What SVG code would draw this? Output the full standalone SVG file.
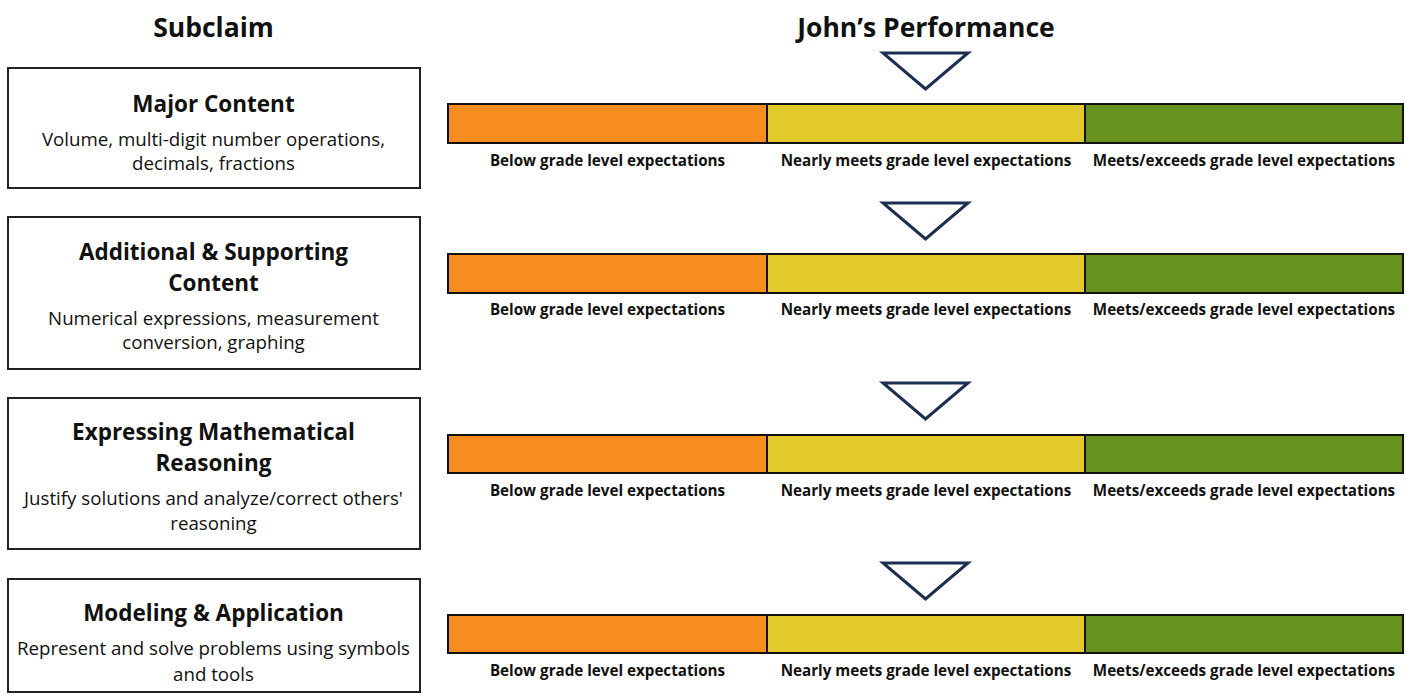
<svg xmlns="http://www.w3.org/2000/svg" width="1407" height="696" viewBox="0 0 1407 696">
<style>
text{font-family:"Open Sans","Noto Sans","Liberation Sans",sans-serif;fill:#111;text-anchor:middle}
.hdr{font-size:26.5px;font-weight:700}
.ttl{font-size:22.5px;font-weight:700}
.body{font-size:18.7px}
.lbl{font-size:15.2px;font-weight:700}
.box{fill:#fff;stroke:#222;stroke-width:2}
.o{fill:#F78C1F;stroke:#111;stroke-width:2}
.y{fill:#E3CA2C;stroke:#111;stroke-width:2}
.g{fill:#66921D;stroke:#111;stroke-width:2}
.tri{fill:#fff;stroke:#1C2E52;stroke-width:3;stroke-linejoin:miter}
</style>
<rect width="1407" height="696" fill="#fff"/>
<g id="headers">
<text class="hdr" x="213.5" y="37">Subclaim</text>
<text class="hdr" x="926" y="37">John’s Performance</text>
</g>
<g id="subclaim-major">
<rect class="box" x="8" y="68" width="412" height="120"/>
<text class="ttl" x="213.5" y="112">Major Content</text>
<text class="body" x="213.5" y="146">Volume, multi-digit number operations,</text>
<text class="body" x="213.5" y="170">decimals, fractions</text>
</g>
<g id="subclaim-additional">
<rect class="box" x="8" y="217" width="412" height="152"/>
<text class="ttl" x="213.5" y="260">Additional &amp; Supporting</text>
<text class="ttl" x="213.5" y="291">Content</text>
<text class="body" x="213.5" y="325">Numerical expressions, measurement</text>
<text class="body" x="213.5" y="349">conversion, graphing</text>
</g>
<g id="subclaim-reasoning">
<rect class="box" x="8" y="398" width="412" height="151"/>
<text class="ttl" x="213.5" y="440">Expressing Mathematical</text>
<text class="ttl" x="213.5" y="471">Reasoning</text>
<text class="body" x="213.5" y="505">Justify solutions and analyze/correct others'</text>
<text class="body" x="213.5" y="530">reasoning</text>
</g>
<g id="subclaim-modeling">
<rect class="box" x="8" y="579" width="412" height="113"/>
<text class="ttl" x="213.5" y="621">Modeling &amp; Application</text>
<text class="body" x="213.5" y="655">Represent and solve problems using symbols</text>
<text class="body" x="213.5" y="681">and tools</text>
</g>
<g id="bar-major">
<rect class="o" x="448" y="104" width="319" height="39"/>
<rect class="y" x="767" y="104" width="318" height="39"/>
<rect class="g" x="1085" y="104" width="318" height="39"/>
<text class="lbl" x="607.5" y="166">Below grade level expectations</text>
<text class="lbl" x="926" y="166">Nearly meets grade level expectations</text>
<text class="lbl" x="1244" y="166">Meets/exceeds grade level expectations</text>
<polygon class="tri" points="883,53 968,53 925.5,89"/>
</g>
<g id="bar-additional">
<rect class="o" x="448" y="254" width="319" height="39"/>
<rect class="y" x="767" y="254" width="318" height="39"/>
<rect class="g" x="1085" y="254" width="318" height="39"/>
<text class="lbl" x="607.5" y="315">Below grade level expectations</text>
<text class="lbl" x="926" y="315">Nearly meets grade level expectations</text>
<text class="lbl" x="1244" y="315">Meets/exceeds grade level expectations</text>
<polygon class="tri" points="883,203 968,203 925.5,239"/>
</g>
<g id="bar-reasoning">
<rect class="o" x="448" y="435" width="319" height="38"/>
<rect class="y" x="767" y="435" width="318" height="38"/>
<rect class="g" x="1085" y="435" width="318" height="38"/>
<text class="lbl" x="607.5" y="496">Below grade level expectations</text>
<text class="lbl" x="926" y="496">Nearly meets grade level expectations</text>
<text class="lbl" x="1244" y="496">Meets/exceeds grade level expectations</text>
<polygon class="tri" points="883,383 968,383 925.5,419"/>
</g>
<g id="bar-modeling">
<rect class="o" x="448" y="615" width="319" height="38"/>
<rect class="y" x="767" y="615" width="318" height="38"/>
<rect class="g" x="1085" y="615" width="318" height="38"/>
<text class="lbl" x="607.5" y="676">Below grade level expectations</text>
<text class="lbl" x="926" y="676">Nearly meets grade level expectations</text>
<text class="lbl" x="1244" y="676">Meets/exceeds grade level expectations</text>
<polygon class="tri" points="883,563 968,563 925.5,599"/>
</g>
<g id="connectors"></g>
</svg>
